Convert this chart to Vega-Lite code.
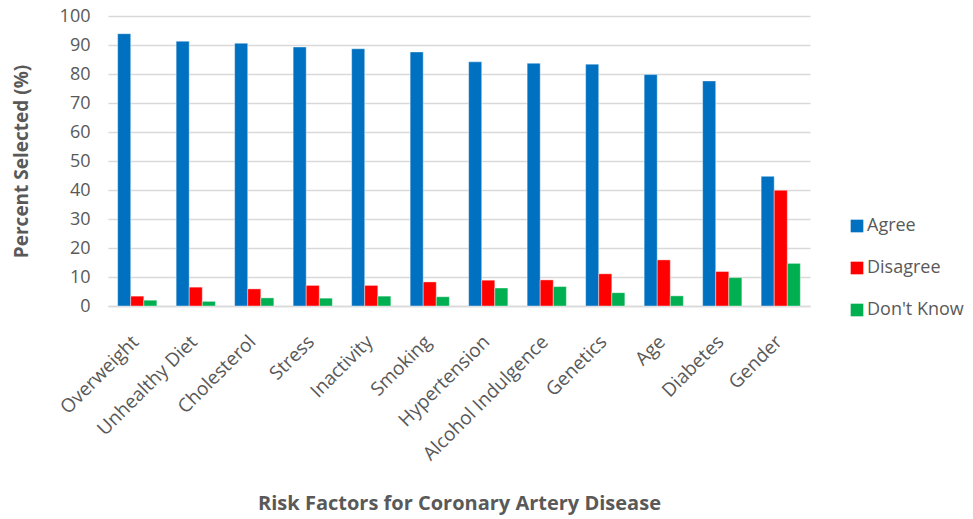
{
  "$schema": "https://vega.github.io/schema/vega-lite/v6.json",
  "width": 702,
  "height": 290,
  "autosize": "none",
  "padding": {"left": 108, "top": 16, "right": 163, "bottom": 213},
  "background": "white",
  "config": {
    "font": "Open Sans",
    "view": {"stroke": null}
  },
  "data": {
    "values": [
      {"factor": "Overweight", "response": "Agree", "value": 93.9},
      {"factor": "Overweight", "response": "Disagree", "value": 3.4},
      {"factor": "Overweight", "response": "Don't Know", "value": 2.0},
      {"factor": "Unhealthy Diet", "response": "Agree", "value": 91.3},
      {"factor": "Unhealthy Diet", "response": "Disagree", "value": 6.5},
      {"factor": "Unhealthy Diet", "response": "Don't Know", "value": 1.6},
      {"factor": "Cholesterol", "response": "Agree", "value": 90.6},
      {"factor": "Cholesterol", "response": "Disagree", "value": 5.9},
      {"factor": "Cholesterol", "response": "Don't Know", "value": 2.8},
      {"factor": "Stress", "response": "Agree", "value": 89.3},
      {"factor": "Stress", "response": "Disagree", "value": 7.1},
      {"factor": "Stress", "response": "Don't Know", "value": 2.7},
      {"factor": "Inactivity", "response": "Agree", "value": 88.7},
      {"factor": "Inactivity", "response": "Disagree", "value": 7.1},
      {"factor": "Inactivity", "response": "Don't Know", "value": 3.4},
      {"factor": "Smoking", "response": "Agree", "value": 87.6},
      {"factor": "Smoking", "response": "Disagree", "value": 8.3},
      {"factor": "Smoking", "response": "Don't Know", "value": 3.2},
      {"factor": "Hypertension", "response": "Agree", "value": 84.2},
      {"factor": "Hypertension", "response": "Disagree", "value": 8.9},
      {"factor": "Hypertension", "response": "Don't Know", "value": 6.2},
      {"factor": "Alcohol Indulgence", "response": "Agree", "value": 83.7},
      {"factor": "Alcohol Indulgence", "response": "Disagree", "value": 9.0},
      {"factor": "Alcohol Indulgence", "response": "Don't Know", "value": 6.7},
      {"factor": "Genetics", "response": "Agree", "value": 83.4},
      {"factor": "Genetics", "response": "Disagree", "value": 11.1},
      {"factor": "Genetics", "response": "Don't Know", "value": 4.6},
      {"factor": "Age", "response": "Agree", "value": 79.8},
      {"factor": "Age", "response": "Disagree", "value": 15.9},
      {"factor": "Age", "response": "Don't Know", "value": 3.5},
      {"factor": "Diabetes", "response": "Agree", "value": 77.6},
      {"factor": "Diabetes", "response": "Disagree", "value": 11.9},
      {"factor": "Diabetes", "response": "Don't Know", "value": 9.8},
      {"factor": "Gender", "response": "Agree", "value": 44.7},
      {"factor": "Gender", "response": "Disagree", "value": 39.9},
      {"factor": "Gender", "response": "Don't Know", "value": 14.7}
    ]
  },
  "mark": {"type": "bar", "strokeWidth": 0.8, "strokeOpacity": 0.5},
  "encoding": {
    "x": {
      "field": "factor",
      "type": "nominal",
      "sort": null,
      "scale": {"paddingInner": 0.33, "paddingOuter": 0.165},
      "axis": {
        "title": "Risk Factors for Coronary Artery Disease",
        "titleFontSize": 20,
        "titleFontWeight": "bold",
        "titleColor": "#595959",
        "titlePadding": 30,
        "labelAngle": -45,
        "labelFontSize": 19,
        "labelColor": "#595959",
        "labelPadding": 26,
        "labelOffset": -8,
        "labelLimit": 300,
        "ticks": false,
        "domain": true,
        "domainColor": "#D9D9D9",
        "domainWidth": 1.5
      }
    },
    "xOffset": {
      "field": "response",
      "type": "nominal",
      "sort": ["Agree", "Disagree", "Don't Know"],
      "scale": {"paddingInner": 0, "paddingOuter": 0}
    },
    "y": {
      "field": "value",
      "type": "quantitative",
      "scale": {"domain": [0, 100], "nice": false},
      "axis": {
        "title": "Percent Selected (%)",
        "titleFontSize": 19,
        "titleFontWeight": "bold",
        "titleColor": "#595959",
        "titlePadding": 28,
        "values": [0, 10, 20, 30, 40, 50, 60, 70, 80, 90, 100],
        "labelFontSize": 18,
        "labelColor": "#595959",
        "labelPadding": 18,
        "ticks": false,
        "domain": false,
        "gridColor": "#D9D9D9",
        "gridWidth": 1.5
      }
    },
    "color": {
      "field": "response",
      "type": "nominal",
      "sort": ["Agree", "Disagree", "Don't Know"],
      "scale": {"domain": ["Agree", "Disagree", "Don't Know"], "range": ["#0070C0", "#FF0000", "#00B050"]},
      "legend": {
        "title": null,
        "orient": "none",
        "legendX": 740,
        "legendY": 201,
        "symbolType": "square",
        "symbolSize": 160,
        "symbolStrokeWidth": 0,
        "labelFontSize": 18,
        "labelColor": "#595959",
        "rowPadding": 24,
        "labelOffset": 1
      }
    },
    "stroke": {"value": "white"}
  }
}
